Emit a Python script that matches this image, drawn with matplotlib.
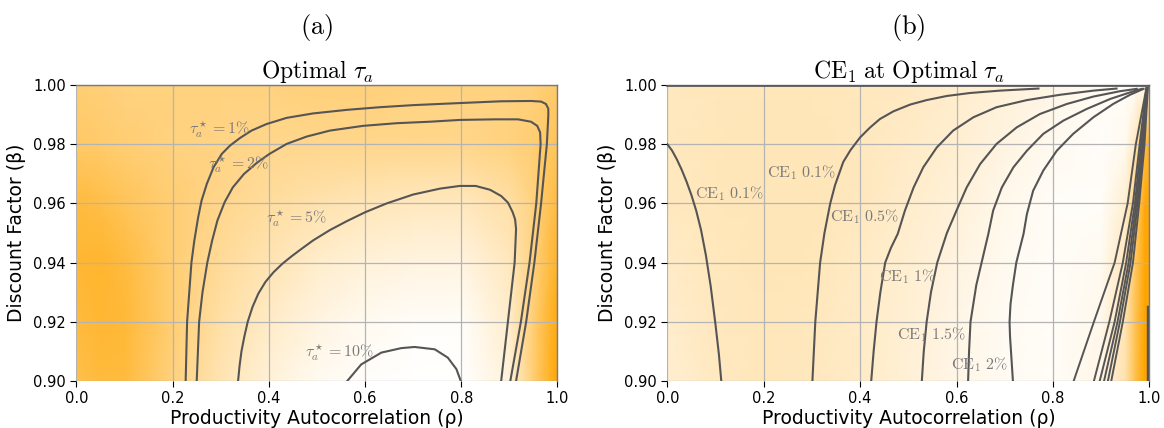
import numpy as np
import matplotlib
matplotlib.use("Agg")
import matplotlib.pyplot as plt
from matplotlib.colors import LinearSegmentedColormap

plt.rcParams['mathtext.fontset'] = 'cm'

# ---- background shading (0 = white, 1 = orange) ----
rho_a = [0.0, 0.05, 0.1, 0.2, 0.3, 0.4, 0.5, 0.6, 0.7, 0.8, 0.9, 0.95, 1.0]
beta_a = [0.90, 0.92, 0.94, 0.96, 0.98, 1.00]
shade_a = [
    [0.70, 0.76, 0.75, 0.50, 0.30, 0.15, 0.06, 0.02, 0.00, 0.00, 0.15, 0.55, 1.00],
    [0.75, 0.80, 0.78, 0.55, 0.35, 0.22, 0.12, 0.06, 0.03, 0.03, 0.20, 0.55, 0.95],
    [0.80, 0.82, 0.75, 0.55, 0.40, 0.30, 0.20, 0.15, 0.12, 0.12, 0.25, 0.50, 0.85],
    [0.75, 0.72, 0.65, 0.55, 0.45, 0.38, 0.32, 0.28, 0.25, 0.25, 0.35, 0.50, 0.75],
    [0.60, 0.58, 0.55, 0.50, 0.48, 0.45, 0.45, 0.45, 0.45, 0.45, 0.50, 0.55, 0.65],
    [0.55, 0.53, 0.50, 0.50, 0.50, 0.50, 0.52, 0.52, 0.50, 0.50, 0.50, 0.52, 0.60],
]

rho_b = [0.0, 0.1, 0.2, 0.3, 0.4, 0.5, 0.6, 0.7, 0.8, 0.9, 0.95, 0.97, 0.99, 1.0]
beta_b = [0.90, 0.92, 0.94, 0.96, 0.98, 1.00]
shade_b = [
    [0.18, 0.24, 0.27, 0.25, 0.22, 0.16, 0.10, 0.05, 0.03, 0.10, 0.32, 0.68, 1.00, 1.00],
    [0.20, 0.25, 0.27, 0.26, 0.22, 0.17, 0.10, 0.05, 0.03, 0.08, 0.30, 0.65, 1.00, 1.00],
    [0.22, 0.26, 0.28, 0.27, 0.23, 0.18, 0.12, 0.06, 0.03, 0.06, 0.27, 0.60, 0.98, 1.00],
    [0.25, 0.27, 0.28, 0.28, 0.25, 0.20, 0.15, 0.08, 0.03, 0.03, 0.18, 0.50, 0.95, 1.00],
    [0.25, 0.27, 0.28, 0.28, 0.26, 0.22, 0.18, 0.12, 0.06, 0.02, 0.06, 0.25, 0.70, 0.90],
    [0.25, 0.27, 0.27, 0.27, 0.26, 0.24, 0.20, 0.15, 0.10, 0.05, 0.03, 0.02, 0.05, 0.10],
]

# ---- panel (a) contours of optimal tau_a ----
tau1_rho = [0.227, 0.230, 0.239, 0.245, 0.253, 0.260, 0.271, 0.285, 0.302, 0.319, 0.340, 0.364,
            0.395, 0.437, 0.492, 0.562, 0.631, 0.700, 0.797, 0.883, 0.945, 0.966, 0.976, 0.981,
            0.981, 0.978, 0.966, 0.952, 0.935, 0.914]
tau1_beta = [0.900, 0.920, 0.940, 0.9474, 0.9553, 0.9609, 0.9666, 0.9722, 0.9767, 0.9795, 0.9821,
             0.9846, 0.9868, 0.9889, 0.9904, 0.9916, 0.9925, 0.9932, 0.9939, 0.9945, 0.9946,
             0.9944, 0.9936, 0.9920, 0.9895, 0.980, 0.960, 0.940, 0.920, 0.900]
tau2_rho = [0.250, 0.255, 0.262, 0.272, 0.282, 0.293, 0.308, 0.325, 0.348, 0.375, 0.401, 0.437,
            0.479, 0.527, 0.596, 0.666, 0.735, 0.797, 0.870, 0.918, 0.945, 0.958, 0.964, 0.965,
            0.956, 0.942, 0.924, 0.902]
tau2_beta = [0.900, 0.920, 0.930, 0.940, 0.9474, 0.9542, 0.9604, 0.9654, 0.9699, 0.9737, 0.9767,
             0.9801, 0.9826, 0.9846, 0.9862, 0.9871, 0.9876, 0.9882, 0.9884, 0.9884, 0.9876,
             0.9862, 0.9840, 0.980, 0.960, 0.940, 0.920, 0.900]
tau5_rho = [0.336, 0.339, 0.343, 0.349, 0.356, 0.366, 0.378, 0.393, 0.410, 0.428, 0.447, 0.465,
            0.492, 0.527, 0.562, 0.600, 0.645, 0.700, 0.756, 0.797, 0.830, 0.860, 0.883, 0.897,
            0.907, 0.912, 0.914, 0.911, 0.897, 0.883]
tau5_beta = [0.900, 0.905, 0.910, 0.915, 0.920, 0.925, 0.9295, 0.9335, 0.9368, 0.9396, 0.9421,
             0.9443, 0.9475, 0.951, 0.954, 0.957, 0.960, 0.963, 0.965, 0.9659, 0.9659, 0.9646,
             0.9625, 0.9603, 0.9570, 0.9546, 0.9513, 0.940, 0.920, 0.900]
tau10_rho = [0.563, 0.592, 0.634, 0.675, 0.703, 0.745, 0.772, 0.790, 0.799]
tau10_beta = [0.900, 0.9056, 0.9096, 0.9111, 0.9115, 0.9107, 0.9079, 0.9040, 0.900]

labels_a = [r"$\tau_a^\star = 1\%$", r"$\tau_a^\star = 2\%$", r"$\tau_a^\star = 5\%$",
            r"$\tau_a^\star = 10\%$"]
label_rho_a = [0.298, 0.338, 0.457, 0.547]
label_beta_a = [0.9851, 0.9733, 0.9548, 0.9098]

# ---- panel (b) contours of CE_1 ----
ceA_rho = [0.000, 0.010, 0.020, 0.030, 0.040, 0.050, 0.060, 0.070, 0.080, 0.090, 0.100, 0.107, 0.112]
ceA_beta = [0.980, 0.9778, 0.9748, 0.9713, 0.9673, 0.9628, 0.9575, 0.951, 0.9425, 0.932, 0.919,
            0.909, 0.900]
ceB_rho = [0.301, 0.307, 0.317, 0.326, 0.338, 0.348, 0.365, 0.380, 0.400, 0.421, 0.441, 0.469,
           0.504, 0.538, 0.580, 0.628, 0.690, 0.770]
ceB_beta = [0.900, 0.920, 0.940, 0.950, 0.960, 0.9662, 0.974, 0.978, 0.9823, 0.9857, 0.9885,
            0.9911, 0.9934, 0.9949, 0.9963, 0.9973, 0.9981, 0.9988]
ceC_rho = [0.423, 0.428, 0.434, 0.442, 0.452, 0.464, 0.478, 0.493, 0.511, 0.531, 0.559, 0.593,
           0.635, 0.683, 0.746, 0.815, 0.884, 0.932]
ceC_beta = [0.900, 0.910, 0.920, 0.930, 0.940, 0.945, 0.9497, 0.9576, 0.9654, 0.9722, 0.9789,
            0.9846, 0.9891, 0.9925, 0.9949, 0.9967, 0.9981, 0.9988]
ceD_rho = [0.528, 0.532, 0.538, 0.547, 0.560, 0.580, 0.600, 0.621, 0.649, 0.683, 0.725, 0.773,
           0.829, 0.884, 0.939, 0.974]
ceD_beta = [0.900, 0.910, 0.920, 0.930, 0.940, 0.950, 0.9576, 0.9654, 0.9733, 0.9801, 0.9857,
            0.9902, 0.9936, 0.9961, 0.9979, 0.9987]
ceE_rho = [0.624, 0.626, 0.629, 0.641, 0.652, 0.666, 0.676, 0.694, 0.718, 0.746, 0.780, 0.822,
           0.870, 0.919, 0.960, 0.984]
ceE_beta = [0.900, 0.910, 0.920, 0.9324, 0.940, 0.9497, 0.9576, 0.9654, 0.9722, 0.9778, 0.9835,
            0.9880, 0.9919, 0.9953, 0.9975, 0.9987]
ceF_rho = [0.717, 0.713, 0.711, 0.710, 0.712, 0.717, 0.724, 0.739, 0.746, 0.759, 0.780, 0.808,
           0.842, 0.884, 0.925, 0.960, 0.988]
ceF_beta = [0.900, 0.910, 0.915, 0.920, 0.926, 0.9324, 0.940, 0.9497, 0.9564, 0.9643, 0.9711,
            0.9778, 0.9835, 0.9891, 0.9936, 0.9967, 0.9987]
fan_beta = [0.90, 0.92, 0.94, 0.96, 0.98, 0.999]
fan_rho = [
    [0.843, 0.885, 0.928, 0.955, 0.972, 0.994],
    [0.885, 0.917, 0.945, 0.966, 0.980, 0.994],
    [0.897, 0.928, 0.952, 0.970, 0.983, 0.995],
    [0.906, 0.934, 0.957, 0.973, 0.986, 0.995],
    [0.914, 0.939, 0.961, 0.976, 0.988, 0.996],
    [0.921, 0.945, 0.966, 0.979, 0.990, 0.997],
]
top_rho = [0.0, 1.0]
top_beta = [0.9998, 0.9998]
edge_rho = [0.998, 0.998]
edge_beta = [0.90, 0.925]

labels_b = [r"$\mathrm{CE}_1\ 0.1\%$", r"$\mathrm{CE}_1\ 0.1\%$", r"$\mathrm{CE}_1\ 0.5\%$",
            r"$\mathrm{CE}_1\ 1\%$", r"$\mathrm{CE}_1\ 1.5\%$", r"$\mathrm{CE}_1\ 2\%$"]
label_rho_b = [0.129, 0.279, 0.409, 0.499, 0.548, 0.648]
label_beta_b = [0.9634, 0.9705, 0.9555, 0.9352, 0.9155, 0.9054]

cmap = LinearSegmentedColormap.from_list('white_orange', ['#FFFFFF', '#FFA500'])
line_c = '#555555'
lab_c = '#7a7a7a'

fig = plt.figure(figsize=(11.64, 4.28), dpi=100)
ax1 = fig.add_axes([0.0657, 0.1098, 0.4132, 0.6916])
ax2 = fig.add_axes([0.5733, 0.1098, 0.4141, 0.6916])


def setup(ax):
    ax.set_xlim(0, 1)
    ax.set_ylim(0.90, 1.00)
    ax.set_xticks([0.0, 0.2, 0.4, 0.6, 0.8, 1.0])
    ax.set_yticks([0.90, 0.92, 0.94, 0.96, 0.98, 1.00])
    ax.set_yticklabels(['0.90', '0.92', '0.94', '0.96', '0.98', '1.00'])
    ax.grid(True, color='#b4b4b4', linewidth=0.9)
    ax.tick_params(labelsize=10.5, length=4)
    ax.spines['left'].set_visible(False)
    ax.spines['bottom'].set_visible(False)
    for s in ['top', 'right']:
        ax.spines[s].set_color('#7a7a7a')
        ax.spines[s].set_linewidth(1.0)
    ax.set_xlabel('Productivity Autocorrelation (ρ)', fontsize=13.5, labelpad=2)
    ax.set_ylabel('Discount Factor (β)', fontsize=13.5, labelpad=5)


# panel (a)
ax1.pcolormesh(rho_a, beta_a, np.array(shade_a), cmap=cmap, vmin=0, vmax=1,
               shading='gouraud', zorder=0)
for xs, ys in [(tau1_rho, tau1_beta), (tau2_rho, tau2_beta), (tau5_rho, tau5_beta),
               (tau10_rho, tau10_beta)]:
    ax1.plot(xs, ys, color=line_c, lw=1.5, zorder=3, solid_joinstyle='round')
for t, x, y in zip(labels_a, label_rho_a, label_beta_a):
    ax1.text(x, y, t, color=lab_c, fontsize=11.5, ha='center', va='center', zorder=4)
setup(ax1)
ax1.set_title(r"$\mathrm{Optimal}\ \tau_a$", fontsize=17, pad=3)

# panel (b)
ax2.pcolormesh(rho_b, beta_b, np.array(shade_b), cmap=cmap, vmin=0, vmax=1,
               shading='gouraud', zorder=0)
for xs, ys in [(ceA_rho, ceA_beta), (ceB_rho, ceB_beta), (ceC_rho, ceC_beta),
               (ceD_rho, ceD_beta), (ceE_rho, ceE_beta), (ceF_rho, ceF_beta)]:
    ax2.plot(xs, ys, color=line_c, lw=1.5, zorder=3, solid_joinstyle='round')
for xs in fan_rho:
    ax2.plot(xs, fan_beta, color=line_c, lw=1.4, zorder=3)
ax2.plot(top_rho, top_beta, color=line_c, lw=1.2, zorder=3, clip_on=False)
ax2.plot(edge_rho, edge_beta, color=line_c, lw=2.5, zorder=3)
for t, x, y in zip(labels_b, label_rho_b, label_beta_b):
    ax2.text(x, y, t, color=lab_c, fontsize=11.5, ha='center', va='center', zorder=4)
setup(ax2)
ax2.set_title(r"$\mathrm{CE}_1\ \mathrm{at\ Optimal}\ \tau_a$", fontsize=17, pad=3)

fig.text(0.2723, 0.935, r"$(\mathrm{a})$", fontsize=19, ha='center', va='center')
fig.text(0.7804, 0.935, r"$(\mathrm{b})$", fontsize=19, ha='center', va='center')

fig.savefig('out.png', dpi=100)
